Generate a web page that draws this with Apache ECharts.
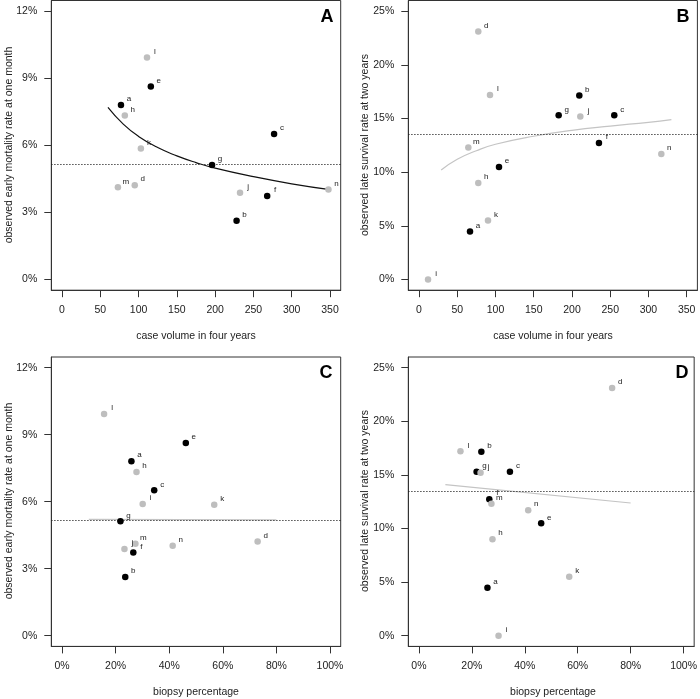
<!DOCTYPE html>
<html><head><meta charset="utf-8">
<script src="https://cdn.jsdelivr.net/npm/echarts@6/dist/echarts.min.js"></script>
<style>html,body{margin:0;padding:0;background:#fff}#c{width:700px;height:699px}</style>
</head><body><div id="c"></div>
<script>
// ---- data ----
const centers = ['a','b','c','d','e','f','g','h','i','j','k','l','m','n'];
const blackCenters = ['a','b','c','e','f','g'];
const volumeMortality = [77, 228, 277, 95, 116, 268, 196, 82, null, 232.5, 103, 111, 73, 348];
const volumeSurvival  = [66.7, 209.6, 255.3, 77.5, 104.6, 235.3, 182.6, 77.5, 11.8, 210.9, 90.2, 92.8, 64.5, 316.8];
const biopsyPct       = [25.9, 23.6, 34.4, 73.0, 46.2, 26.6, 21.8, 27.8, 30.1, 23.3, 56.8, 15.7, 27.4, 41.3];
const earlyMortality  = [7.81, 2.63, 6.51, 4.22, 8.63, 3.73, 5.12, 7.33, 5.90, 3.88, 5.86, 9.93, 4.12, 4.03];
const lateSurvival    = [4.48, 17.15, 15.3, 23.1, 10.48, 12.73, 15.3, 9.0, 0.0, 15.2, 5.5, 17.2, 12.3, 11.7];

const fitA_x = [60, 80, 100, 125, 150, 175, 200, 250, 300, 350];
const fitA_y = [7.70, 6.95, 6.40, 5.90, 5.53, 5.23, 4.98, 4.60, 4.28, 4.02];
const fitB_x = [29, 50, 75, 100, 150, 200, 250, 300, 330];
const fitB_y = [10.2, 11.2, 12.0, 12.6, 13.35, 13.9, 14.3, 14.65, 14.9];
const fitC_x = [10, 80];
const fitC_y = [5.21, 5.19];
const fitD_x = [10, 80];
const fitD_y = [14.09, 12.38];
const refMortality = 5.15;
const refSurvival = 13.5;

const volumeTicks = [0, 50, 100, 150, 200, 250, 300, 350];
const pctTicks = [0, 20, 40, 60, 80, 100];
const mortTicks = [0, 3, 6, 9, 12];
const survTicks = [0, 5, 10, 15, 20, 25];

// ---- chart ----
const FONT = 'Liberation Sans, Arial, Helvetica, sans-serif';
const BLACK = '#000000', GREY = '#bebebe';
const chart = echarts.init(document.getElementById('c'), null, {renderer: 'canvas'});

const grids = [
  {left: 51.3, top: 0.5, width: 289.4, height: 289.7},
  {left: 408.3, top: 0.5, width: 289.1, height: 289.7},
  {left: 51.3, top: 357, width: 289.4, height: 289.4},
  {left: 408.3, top: 357, width: 289.1, height: 289.4}
].map(g => Object.assign({show: true, borderColor: '#333', borderWidth: 1, backgroundColor: 'transparent'}, g));

function axis(kind, gi, min, max, ticks, fmt) {
  return {
    type: 'value', gridIndex: gi, min: min, max: max,
    position: kind === 'x' ? 'bottom' : 'left',
    splitLine: {show: false},
    axisLine: {show: true, onZero: false, lineStyle: {color: '#333', width: 1}},
    axisTick: {show: true, inside: false, length: 7, customValues: ticks, lineStyle: {color: '#333', width: 1}},
    axisLabel: {customValues: ticks, formatter: fmt, margin: 14, color: '#222', fontSize: 10.5, fontFamily: FONT}
  };
}
const pctFmt = v => v + '%';
const numFmt = v => String(v);

const xAxes = [
  axis('x', 0, -14, 364, volumeTicks, numFmt),
  axis('x', 1, -14, 364, volumeTicks, numFmt),
  axis('x', 2, -4, 104, pctTicks, pctFmt),
  axis('x', 3, -4, 104, pctTicks, pctFmt)
];
const yAxes = [
  axis('y', 0, -0.48, 12.48, mortTicks, pctFmt),
  axis('y', 1, -1, 26, survTicks, pctFmt),
  axis('y', 2, -0.48, 12.48, mortTicks, pctFmt),
  axis('y', 3, -1, 26, survTicks, pctFmt)
];

function points(xs, ys) {
  const out = [];
  centers.forEach((c, i) => {
    if (xs[i] == null || ys[i] == null) return;
    out.push({name: c, value: [xs[i], ys[i]],
      itemStyle: {color: blackCenters.includes(c) ? BLACK : GREY, opacity: 1}});
  });
  return out;
}
function scatter(gi, xs, ys, ref) {
  return {
    type: 'scatter', xAxisIndex: gi, yAxisIndex: gi, z: 5,
    symbolSize: 6.5, data: points(xs, ys),
    itemStyle: {opacity: 1},
    label: {show: true, position: 'inside', offset: [8, -6], formatter: p => p.name,
      fontSize: 8, color: '#222', fontFamily: FONT},
    emphasis: {disabled: true},
    markLine: {silent: true, symbol: 'none', animation: false,
      lineStyle: {type: [1.2, 1.8], color: '#222', width: 1},
      label: {show: false}, data: [{yAxis: ref}]}
  };
}
function fit(gi, xs, ys, color, width) {
  return {
    type: 'line', xAxisIndex: gi, yAxisIndex: gi, z: 3, smooth: true,
    showSymbol: false, symbol: 'none', data: xs.map((x, i) => [x, ys[i]]),
    lineStyle: {color: color, width: width}, emphasis: {disabled: true}
  };
}

const series = [
  fit(0, fitA_x, fitA_y, '#111', 1.2),
  fit(1, fitB_x, fitB_y, '#c4c4c4', 1.2),
  fit(2, fitC_x, fitC_y, '#c4c4c4', 1.2),
  fit(3, fitD_x, fitD_y, '#c4c4c4', 1.2),
  scatter(0, volumeMortality, earlyMortality, refMortality),
  scatter(1, volumeSurvival, lateSurvival, refSurvival),
  scatter(2, biopsyPct, earlyMortality, refMortality),
  scatter(3, biopsyPct, lateSurvival, refSurvival)
];

function txt(x, y, s, opts) {
  return {type: 'text', x: x, y: y, silent: true,
    style: Object.assign({text: s, fill: '#222', font: '10.5px ' + FONT, align: 'center', verticalAlign: 'middle'}, opts || {})};
}
function vtxt(x, y, s) {
  return {type: 'text', x: x, y: y, rotation: Math.PI / 2, silent: true,
    style: {text: s, fill: '#222', font: '10.5px ' + FONT, align: 'center', verticalAlign: 'middle'}};
}
const graphic = [
  txt(196, 336, 'case volume in four years'),
  txt(553, 336, 'case volume in four years'),
  txt(196, 692, 'biopsy percentage'),
  txt(553, 692, 'biopsy percentage'),
  vtxt(9, 145, 'observed early mortality rate at one month'),
  vtxt(365, 145, 'observed late survival rate at two years'),
  vtxt(9, 501, 'observed early mortality rate at one month'),
  vtxt(365, 501, 'observed late survival rate at two years'),
  txt(327, 17, 'A', {font: 'bold 18px ' + FONT, fill: '#000'}),
  txt(683, 17, 'B', {font: 'bold 18px ' + FONT, fill: '#000'}),
  txt(326, 373, 'C', {font: 'bold 18px ' + FONT, fill: '#000'}),
  txt(682, 373, 'D', {font: 'bold 18px ' + FONT, fill: '#000'})
];

chart.setOption({
  animation: false,
  backgroundColor: '#ffffff',
  grid: grids, xAxis: xAxes, yAxis: yAxes, series: series, graphic: graphic
});
</script></body></html>
